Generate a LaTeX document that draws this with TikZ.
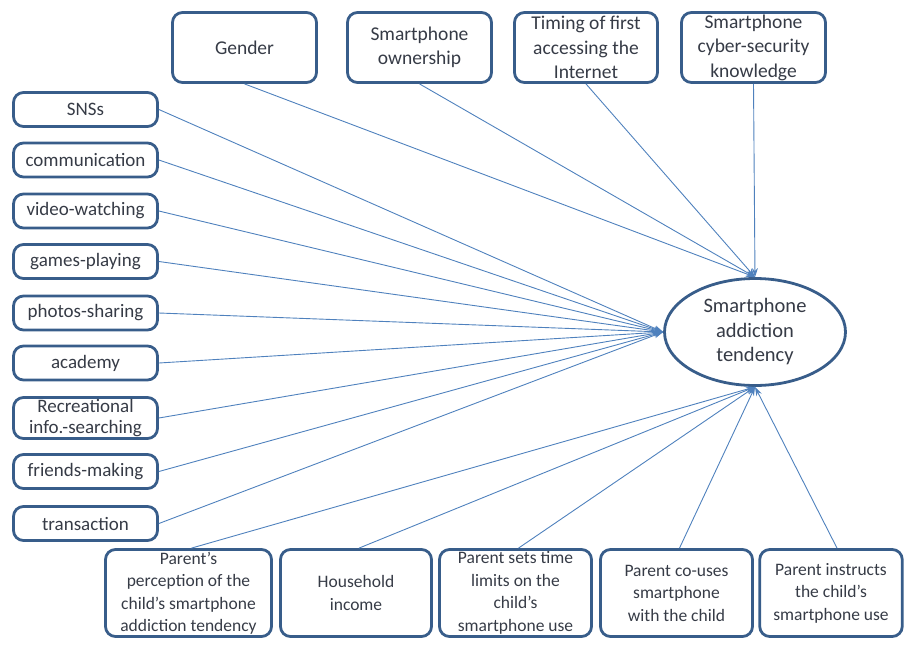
\documentclass[tikz,border=0pt]{standalone}
\usepackage{fontspec}
\setmainfont{Carlito}
\usetikzlibrary{arrows.meta,shapes.geometric}
\definecolor{boxblue}{HTML}{385D8A}
\definecolor{linkblue}{HTML}{4F81BD}
\definecolor{txt}{HTML}{363B46}
\tikzset{
  box/.style={rectangle, rounded corners=10pt, draw=boxblue, line width=2.8pt,
    align=center, inner sep=1pt, text=txt, font=\fontsize{19}{24}\selectfont},
  leftbox/.style={box, minimum width=144pt, minimum height=34pt},
  topbox/.style={box, minimum width=144pt, minimum height=70pt, font=\fontsize{19.5}{24.5}\selectfont},
  botbox/.style={box, minimum height=87pt, font=\fontsize{17.5}{22.5}\selectfont},
  link/.style={draw=linkblue, line width=0.9pt, -{Stealth[length=9pt,width=6pt]}},
}
\begin{document}
\begin{tikzpicture}[x=1pt,y=-1pt]
\useasboundingbox (0,0) rectangle (905,651);
% outcome
\node[ellipse, draw=boxblue, line width=2.8pt, minimum width=181pt, minimum height=107pt,
  inner sep=0pt, align=center, text=txt, font=\fontsize{20.5}{24.5}\selectfont]
  (ell) at (755,332) {Smartphone\\addiction\\tendency};
% top boxes
\node[topbox] (gen) at (244.5,47.5) {Gender};
\node[topbox] (own) at (419.5,47.5) {Smartphone\\ownership};
\node[topbox, minimum width=143pt] (tim) at (586,47.5) {Timing of first\\accessing the\\Internet};
\node[topbox] (cyb) at (753.5,47.5) {Smartphone\\cyber-security\\knowledge};
% left boxes
\node[leftbox] (sns) at (85.5,109.5) {SNSs};
\node[leftbox] (com) at (85.5,160) {communication};
\node[leftbox] (vid) at (85.5,211) {video-watching};
\node[leftbox] (gam) at (85.5,261.5) {games-playing};
\node[leftbox] (pho) at (85.5,313) {photos-sharing};
\node[leftbox] (aca) at (85.5,363) {academy};
\node[leftbox, minimum height=41pt, font=\fontsize{19}{21}\selectfont] (rec) at (85.5,418) {Recreational\\info.-searching};
\node[leftbox] (fri) at (85.5,471.5) {friends-making};
\node[leftbox] (tra) at (85.5,523.5) {transaction};
% bottom boxes
\node[botbox, minimum width=166pt] (per) at (188.5,593) {Parent’s\\perception of the\\child’s smartphone\\addiction tendency};
\node[botbox, minimum width=151pt] (hou) at (356,593) {Household\\income};
\node[botbox, minimum width=152pt] (lim) at (515.5,593) {Parent sets time\\limits on the\\child’s\\smartphone use};
\node[botbox, minimum width=152pt] (cou) at (676.5,593) {Parent co-uses\\smartphone\\with the child};
\node[botbox, minimum width=142.5pt] (ins) at (831,593) {Parent instructs\\the child’s\\smartphone use};
% connectors
\foreach \n in {gen,own,tim,cyb} \draw[link] (\n.south) -- (ell.north);
\foreach \n in {sns,com,vid,gam,pho,aca,rec,fri,tra} \draw[link] (\n.east) -- (ell.west);
\foreach \n in {per,hou,lim,cou} \draw[link] ([xshift=3pt]\n.north) -- (ell.south);
\draw[link] ([xshift=6pt]ins.north) -- (ell.south);
\end{tikzpicture}
\end{document}
